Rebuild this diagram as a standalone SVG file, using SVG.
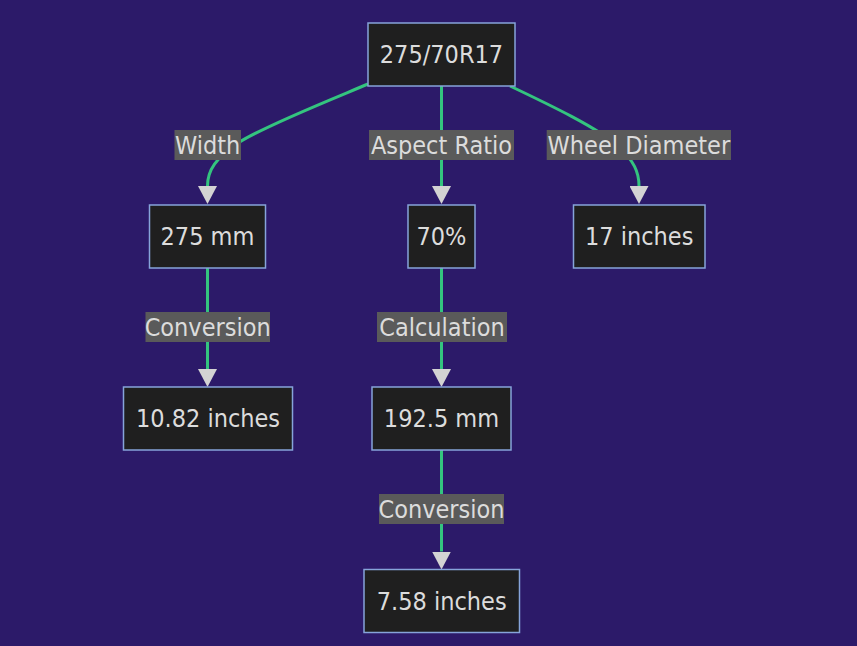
<svg xmlns="http://www.w3.org/2000/svg" width="857" height="646" viewBox="0 0 857 646">
<defs>
<style>
.node rect{fill:#1f1f1f;stroke:#86a4da;stroke-width:1.5}
.node text,.elabel text{font-family:"DejaVu Sans Condensed","DejaVu Sans",sans-serif;font-stretch:condensed;font-size:25px;fill:#dcdcdc;text-anchor:middle}
.elabel rect{fill:#5a5a5a}
.edge{fill:none;stroke:#34c47f;stroke-width:3}
</style>
<marker id="arrow" viewBox="0 0 18 19" refX="0" refY="9.5" markerWidth="18" markerHeight="19" markerUnits="userSpaceOnUse" orient="auto">
<path d="M0,0 L18,9.5 L0,19 z" fill="#d3d3d3"/>
</marker>
</defs>
<rect x="0" y="0" width="857" height="646" fill="#2c1a69"/>
<g id="connectors">
<path class="edge" d="M368,84 C330,100 262,127 238,143 C216,158 207.5,170 207.5,186" marker-end="url(#arrow)"/>
<path class="edge" d="M441.5,86 L441.5,186" marker-end="url(#arrow)"/>
<path class="edge" d="M510,86 C550,105 598,128 618,146 C634,161 639,172 639,186" marker-end="url(#arrow)"/>
<path class="edge" d="M207.5,268 L207.5,369" marker-end="url(#arrow)"/>
<path class="edge" d="M441.5,268 L441.5,369" marker-end="url(#arrow)"/>
<path class="edge" d="M441.5,450 L441.5,551.5" marker-end="url(#arrow)"/>
</g>
<g id="edge-labels">
<g class="elabel" id="label-width"><rect x="174.5" y="130" width="66.5" height="30"/><text x="207.7" y="153.8">Width</text></g>
<g class="elabel" id="label-aspect"><rect x="369" y="130" width="145" height="30"/><text x="441.5" y="153.8">Aspect Ratio</text></g>
<g class="elabel" id="label-wheel"><rect x="546.7" y="130" width="184.3" height="30"/><text x="638.9" y="153.8">Wheel Diameter</text></g>
<g class="elabel" id="label-conv1"><rect x="145.5" y="312" width="124.5" height="30"/><text x="207.7" y="335.8">Conversion</text></g>
<g class="elabel" id="label-calc"><rect x="377" y="312" width="130" height="30"/><text x="442" y="335.8">Calculation</text></g>
<g class="elabel" id="label-conv2"><rect x="379" y="494" width="125" height="30"/><text x="441.5" y="517.8">Conversion</text></g>
</g>
<g class="node" id="tire"><rect x="368" y="23" width="147" height="63"/><text x="441.5" y="63.3">275/70R17</text></g>
<g class="node" id="width"><rect x="149.5" y="205" width="116" height="63"/><text x="207.5" y="245.3">275 mm</text></g>
<g class="node" id="aspect"><rect x="408" y="205" width="67" height="63"/><text x="441.5" y="245.3">70%</text></g>
<g class="node" id="wheel"><rect x="573.5" y="205" width="131.5" height="63"/><text x="639.2" y="245.3">17 inches</text></g>
<g class="node" id="width-in"><rect x="123.5" y="387" width="169" height="63"/><text x="208" y="427.3">10.82 inches</text></g>
<g class="node" id="sidewall"><rect x="372" y="387" width="139" height="63"/><text x="441.5" y="427.3">192.5 mm</text></g>
<g class="node" id="sidewall-in"><rect x="364" y="569.5" width="155.5" height="63"/><text x="441.7" y="609.8">7.58 inches</text></g>
</svg>
